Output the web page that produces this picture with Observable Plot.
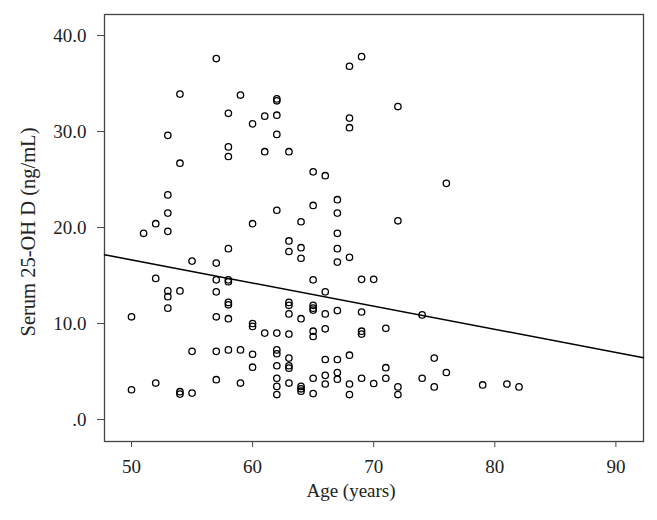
<!DOCTYPE html>
<html><head><meta charset="utf-8">
<script src="https://cdn.jsdelivr.net/npm/d3@7"></script>
<script src="https://cdn.jsdelivr.net/npm/@observablehq/plot@0.6"></script>
<style>body{margin:0;background:#fff} svg{display:block}</style>
</head><body><div id="chart"></div>
<script>
// Age (years) and the serum 25-OH D readings (ng/mL) observed at that age
const ages = [50, 51, 52, 53, 54, 55, 57, 58, 59, 60, 61, 62, 63, 64, 65, 66, 67, 68, 69, 70, 71, 72, 74, 75, 76, 79, 81, 82];
const serumByAge = [
  [10.7, 3.1],
  [19.4],
  [20.4, 14.7, 3.8],
  [29.6, 23.4, 21.5, 19.6, 13.4, 12.8, 11.6],
  [33.9, 26.7, 13.4, 2.9, 2.65],
  [16.5, 7.1, 2.75],
  [37.6, 16.3, 14.55, 13.3, 10.7, 7.1, 4.15],
  [31.9, 28.4, 27.4, 17.8, 14.55, 14.35, 12.2, 11.95, 10.5, 7.25],
  [33.8, 7.25, 3.8],
  [30.8, 20.4, 10.0, 9.7, 6.8, 5.45],
  [31.6, 27.9, 9.0],
  [33.4, 33.2, 31.7, 29.7, 21.8, 9.0, 7.25, 6.85, 5.6, 4.3, 3.45, 2.6],
  [27.9, 18.6, 17.5, 12.2, 11.9, 11.0, 8.9, 6.4, 5.6, 5.35, 3.8],
  [20.6, 17.9, 16.8, 10.5, 3.45, 3.2, 2.95],
  [25.8, 22.3, 14.55, 11.9, 11.6, 11.4, 9.2, 8.65, 4.3, 2.7],
  [25.4, 13.3, 11.0, 9.45, 6.25, 4.6, 3.7],
  [22.9, 21.5, 19.4, 17.8, 16.4, 11.35, 6.25, 4.9, 4.2],
  [36.8, 31.4, 30.4, 16.9, 6.7, 3.7, 2.6],
  [37.8, 14.6, 11.2, 9.2, 8.9, 4.3],
  [14.6, 3.75],
  [9.5, 5.4, 4.3],
  [32.6, 20.7, 3.4, 2.6],
  [10.9, 4.3],
  [6.4, 3.4],
  [24.6, 4.9],
  [3.6],
  [3.7],
  [3.4]
];
// fitted regression line
const fitIntercept = 28.68;
const fitSlope = -0.241;

const xDomain = [47.77, 92.28];
const yDomain = [-2.29, 42.19];
const xTicks = [50, 60, 70, 80, 90];
const yTicks = [0, 10, 20, 30, 40];

const points = ages.flatMap((a, i) => serumByAge[i].map(v => ({age: a, serum: v})));
const fitLine = xDomain.map(x => ({age: x, serum: fitIntercept + fitSlope * x}));

const font = "'Liberation Serif', 'Times New Roman', serif";
const chart = Plot.plot({
  width: 657, height: 520,
  marginLeft: 104, marginRight: 14, marginTop: 14, marginBottom: 79,
  style: {fontFamily: font, fontSize: "19px", color: "#222", background: "#fff"},
  x: {domain: xDomain, ticks: xTicks},
  y: {domain: yDomain, ticks: yTicks},
  marks: [
    Plot.axisX({ticks: xTicks, tickSize: 6, tickPadding: 12, label: null, stroke: "#444", fontSize: 19}),
    Plot.axisY({ticks: yTicks, tickSize: 7, tickPadding: 11, label: null, stroke: "#444", fontSize: 19,
      tickFormat: d => d === 0 ? ".0" : d.toFixed(1)}),
    Plot.frame({stroke: "#444", strokeWidth: 1.3}),
    Plot.line(fitLine, {x: "age", y: "serum", stroke: "black", strokeWidth: 1.5}),
    Plot.dot(points, {x: "age", y: "serum", r: 3.2, stroke: "black", strokeWidth: 1.3, fill: "none"}),
    Plot.text(["Age (years)"], {text: d => d, frameAnchor: "bottom", textAnchor: "middle", dx: -23, dy: 42, lineAnchor: "top", fontSize: 19, fill: "#222"}),
    Plot.text(["Serum 25-OH D (ng/mL)"], {text: d => d, frameAnchor: "left", textAnchor: "middle", lineAnchor: "middle", rotate: -90, dx: -76, dy: 4, fontSize: 20.5, fill: "#222"})
  ]
});
document.getElementById("chart").appendChild(chart);
</script>
</body></html>
